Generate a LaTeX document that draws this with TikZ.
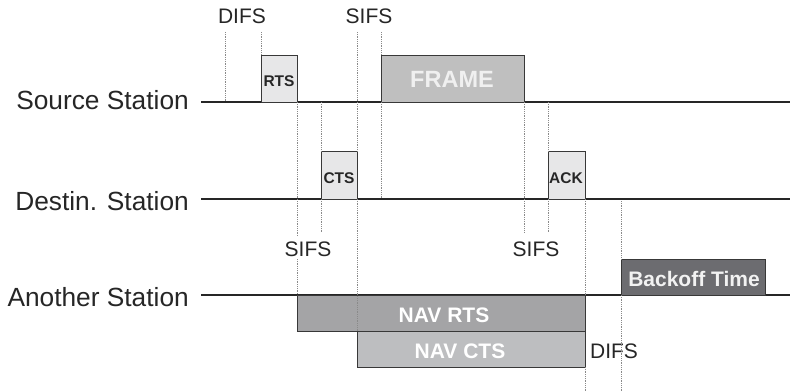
\documentclass[tikz,border=0pt]{standalone}
\usepackage{fontspec}
\setmainfont{Liberation Sans}
\definecolor{bord}{HTML}{383838}
\definecolor{guidec}{HTML}{8A8A8A}
\definecolor{lightc}{HTML}{E7E7E8}
\definecolor{framec}{HTML}{BFBFBF}
\definecolor{navrtsc}{HTML}{A4A4A6}
\definecolor{navctsc}{HTML}{BDBEC0}
\definecolor{backc}{HTML}{6C6C70}
\begin{document}
\begin{tikzpicture}[x=1pt,y=-1pt,
  stn/.style={font=\fontsize{26.3}{30}\selectfont, anchor=base east, inner sep=0pt, text=black!85},
  lbl/.style={font=\fontsize{21}{25}\selectfont, inner sep=0pt, text=black!85},
  slot/.style={draw=bord, line width=0.9pt, fill=#1, inner sep=0pt, anchor=north west},
  smalltxt/.style={font=\bfseries\fontsize{15.5}{18}\selectfont, inner sep=0pt, text=black!85},
  bigtxt/.style={font=\bfseries\fontsize{21}{25}\selectfont, inner sep=0pt, text=#1},
  guide/.style={draw=guidec, line width=0.8pt, dash pattern=on 0.8pt off 1pt},
  axis/.style={draw=black!85, line width=1.2pt}]
\useasboundingbox (0,0) rectangle (790,391);

% station labels and time lines
\node[stn] (src) at (189,109) {Source Station};
\node[stn] (dst) at (189,210) {Destin. Station};
\node[stn] (oth) at (189,306.5) {Another Station};
\coordinate (s0) at (201,102); \coordinate (s1) at (790,102);
\coordinate (d0) at (201,199); \coordinate (d1) at (790,199);
\coordinate (a0) at (201,295); \coordinate (a1) at (790,295);
\draw[axis] (s0) -- (s1);
\draw[axis] (d0) -- (d1);
\draw[axis] (a0) -- (a1);

% boxes
\node[slot=lightc, minimum width=36pt, minimum height=47pt] (rts) at (261,55) {};
\node[slot=framec, minimum width=143pt, minimum height=47pt] (frame) at (381,55) {};
\node[slot=lightc, minimum width=36pt, minimum height=48pt] (cts) at (321,151) {};
\node[slot=lightc, minimum width=37pt, minimum height=48pt] (ack) at (548,151) {};
\node[slot=navrtsc, minimum width=288pt, minimum height=36pt] (navrts) at (297,295) {};
\node[slot=navctsc, minimum width=228pt, minimum height=36pt] (navcts) at (357,331) {};
\node[slot=backc, minimum width=144pt, minimum height=36pt] (backoff) at (621,259) {};

% box texts
\node[smalltxt] (trts) at (279,81.5) {RTS};
\node[smalltxt] (tcts) at (339,178) {CTS};
\node[smalltxt] (tack) at (566,178) {ACK};
\node[bigtxt=white!94!black, font=\bfseries\fontsize{23.5}{28}\selectfont] (tframe) at (452,79) {FRAME};
\node[bigtxt=white] (tnavrts) at (444,315.5) {NAV RTS};
\node[bigtxt=white] (tnavcts) at (460,351) {NAV CTS};
\node[bigtxt=white!95!black] (tback) at (694,278.5) {Backoff Time};

% interval labels
\node[lbl] (difs1) at (242,16.7) {DIFS};
\node[lbl] (sifs1) at (369,16.7) {SIFS};
\node[lbl] (sifs2) at (308,249.5) {SIFS};
\node[lbl] (sifs3) at (536,249.5) {SIFS};
\node[lbl] (difs2) at (614,351) {DIFS};

% guide lines
\draw[guide] (225,32) -- (225,102);
\draw[guide] (261,32) -- (261,55);
\draw[guide] (357,32) -- (357,151);
\draw[guide] (357,199) -- (357,331);
\draw[guide] (381,32) -- (381,55);
\draw[guide] (381,102) -- (381,199);
\draw[guide] (297,102) -- (297,236);
\draw[guide] (297,259) -- (297,295);
\draw[guide] (321,102) -- (321,151);
\draw[guide] (321,199) -- (321,233);
\draw[guide] (524,102) -- (524,233);
\draw[guide] (548,102) -- (548,151);
\draw[guide] (548,199) -- (548,233);
\draw[guide] (585,199) -- (585,295);
\draw[guide] (585,367) -- (585,391);
\draw[guide] (621,201) -- (621,259);
\draw[guide] (621,295) -- (621,391);
\end{tikzpicture}
\end{document}
